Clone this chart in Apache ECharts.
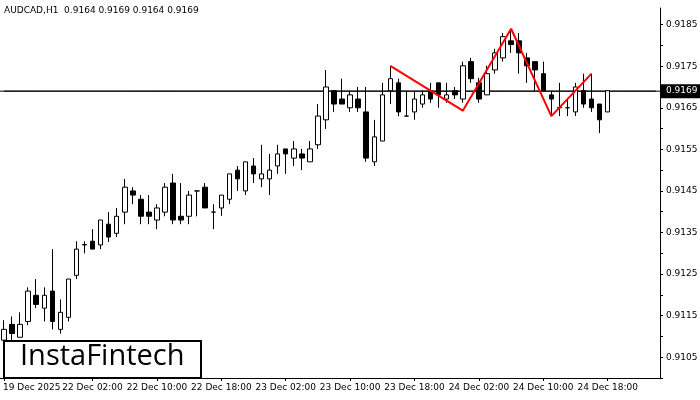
<!DOCTYPE html><html><head><meta charset="utf-8">
<script src="https://cdn.jsdelivr.net/npm/echarts@6/dist/echarts.min.js"></script>
<style>html,body{margin:0;padding:0;background:#fff}#c{width:700px;height:400px}</style></head><body><div id="c"></div>
<script>
// [open, close, low, high]
const candles = [
[.91091,.91117,.91085,.91139],[.91129,.91107,.91091,.91148],[.91098,.91129,.91098,.91158],[.91136,.91209,.91127,.91218],
[.91199,.91177,.91168,.91238],[.91168,.91199,.91136,.91218],[.91209,.91136,.91117,.91310],[.91117,.91158,.91107,.91189],
[.91146,.91238,.91136,.91238],[.91247,.91310,.91238,.91329],[.91320,.91321,.91300,.91329],[.91329,.91310,.91310,.91358],
[.91320,.91380,.91310,.91380],[.91370,.91339,.91327,.91399],[.91348,.91389,.91339,.91409],[.91399,.91459,.91370,.91479],
[.91450,.91440,.91418,.91459],[.91430,.91389,.91370,.91440],[.91399,.91389,.91370,.91440],[.91380,.91409,.91358,.91418],
[.91399,.91459,.91389,.91469],[.91469,.91380,.91370,.91491],[.91389,.91380,.91370,.91469],[.91389,.91440,.91370,.91450],
[.91450,.91450,.91389,.91450],[.91459,.91409,.91409,.91469],[.91399,.91399,.91358,.91418],[.91409,.91440,.91390,.91440],
[.91430,.91491,.91418,.91491],[.91500,.91479,.91450,.91510],[.91450,.91520,.91440,.91520],[.91510,.91491,.91469,.91529],
[.91479,.91491,.91459,.91561],[.91479,.91500,.91440,.91539],[.91510,.91539,.91491,.91561],[.91551,.91539,.91491,.91551],
[.91529,.91551,.91510,.91570],[.91539,.91529,.91500,.91551],[.91520,.91551,.91520,.91570],[.91561,.91630,.91551,.91659],
[.91621,.91700,.91599,.91741],[.91691,.91659,.91640,.91691],[.91671,.91659,.91659,.91720],[.91650,.91681,.91640,.91691],
[.91671,.91650,.91640,.91700],[.91640,.91529,.91520,.91700],[.91520,.91580,.91510,.91621],[.91570,.91681,.91570,.91710],
[.91691,.91720,.91659,.91751],[.91710,.91640,.91630,.91720],[.91630,.91630,.91630,.91691],[.91640,.91671,.91621,.91691],
[.91659,.91681,.91650,.91691],[.91691,.91671,.91662,.91710],[.91710,.91681,.91650,.91710],[.91671,.91681,.91662,.91710],
[.91691,.91681,.91671,.91700],[.91671,.91751,.91662,.91761],[.91761,.91720,.91710,.91770],[.91710,.91671,.91662,.91722],
[.91681,.91732,.91681,.91751],[.91741,.91782,.91732,.91792],[.91770,.91821,.91761,.91830],[.91811,.91802,.91782,.91838],
[.91811,.91782,.91732,.91830],[.91770,.91751,.91710,.91782],[.91761,.91741,.91691,.91761],[.91732,.91691,.91691,.91761],
[.91681,.91671,.91630,.91691],[.91650,.91651,.91630,.91710],[.91650,.91650,.91630,.91671],[.91640,.91700,.91630,.91710],
[.91691,.91659,.91650,.91732],[.91671,.91650,.91640,.91732],[.91659,.91621,.91589,.91659],[.91640,.91691,.91640,.91691]
];
const patternIdx = [48, 57, 63, 68, 73];
const patternVal = [.91751, .91643, .91840, .91630, .91732];
const currentPrice = 0.9169;
const xTickLabels = {0:'19 Dec 2025',11:'22 Dec 02:00',19:'22 Dec 10:00',27:'22 Dec 18:00',35:'23 Dec 02:00',43:'23 Dec 10:00',51:'23 Dec 18:00',59:'24 Dec 02:00',67:'24 Dec 10:00',75:'24 Dec 18:00'};
const nSlots = 82;
const cats = Array.from({length:nSlots},(_,i)=>String(i));
const patternData = cats.map(()=>null);
patternIdx.forEach((k,j)=>patternData[k]=patternVal[j]);
const priceLine = cats.map(()=>currentPrice);

const ch = echarts.init(document.getElementById('c'));
ch.setOption({
  animation:false,
  textStyle:{fontFamily:'DejaVu Sans'},
  grid:{left:0,right:40,top:8,bottom:22,outerBoundsMode:'none',containLabel:false},
  xAxis:{type:'category',data:cats,boundaryGap:true,
    axisLine:{lineStyle:{color:'#000'}},
    axisTick:{show:true,alignWithLabel:true,length:3,lineStyle:{color:'#000'},interval:(i)=>xTickLabels[i]!==undefined},
    axisLabel:{interval:0,fontSize:9,color:'#000',margin:5,hideOverlap:false,formatter:(v,i)=>i>0&&xTickLabels[i]?xTickLabels[i]:''},
    splitLine:{show:false}},
  yAxis:{type:'value',position:'right',min:0.9100,max:0.9189,interval:0.0005,
    axisLine:{show:true,lineStyle:{color:'#000'}},
    axisTick:{show:true,length:3,lineStyle:{color:'#000'}},
    axisLabel:{fontSize:9,color:'#000',margin:6,showMaxLabel:false,formatter:v=>{const k=Math.round(v*10000);return (k%2===1&&k<9188)?(k/10000).toFixed(4):'';}},
    splitLine:{show:false}},
  series:[
    {type:'line',data:priceLine,symbol:'none',lineStyle:{color:'#000',width:1},z:1},
    {type:'candlestick',data:candles,barWidth:5,z:2,
      itemStyle:{color:'#fff',color0:'#000',borderColor:'#000',borderColor0:'#000',borderWidth:1}},
    {type:'line',data:patternData,connectNulls:true,symbol:'none',z:3,
      lineStyle:{color:'#ff0000',width:2}}
  ]
});
const py = ch.convertToPixel({yAxisIndex:0}, currentPrice);
ch.setOption({graphic:[
    {type:'line',shape:{x1:0,y1:py,x2:660,y2:py},style:{stroke:'#000',lineWidth:1},z:0},
    {type:'text',left:4,top:6,style:{text:'AUDCAD,H1  0.9164 0.9169 0.9164 0.9169',fontSize:9,fill:'#000',fontFamily:'DejaVu Sans'}},
    {type:'text',left:3,top:383,style:{text:xTickLabels[0],fontSize:9,fill:'#000',fontFamily:'DejaVu Sans'}},
    {type:'rect',shape:{x:661,y:py-7,width:39,height:14},style:{fill:'#000'},z:100},
    {type:'text',x:666,y:py,style:{text:currentPrice.toFixed(4),fontSize:9,fill:'#fff',fontFamily:'DejaVu Sans',verticalAlign:'middle'},z:101},
    {type:'rect',left:3,top:340,shape:{width:197,height:37},style:{fill:'#fff',stroke:'#000',lineWidth:2},z:100},
    {type:'text',left:20,top:342,style:{text:'InstaFintech',fontSize:29,fill:'#000',fontFamily:'Open Sans'},z:101}
]});
</script></body></html>
